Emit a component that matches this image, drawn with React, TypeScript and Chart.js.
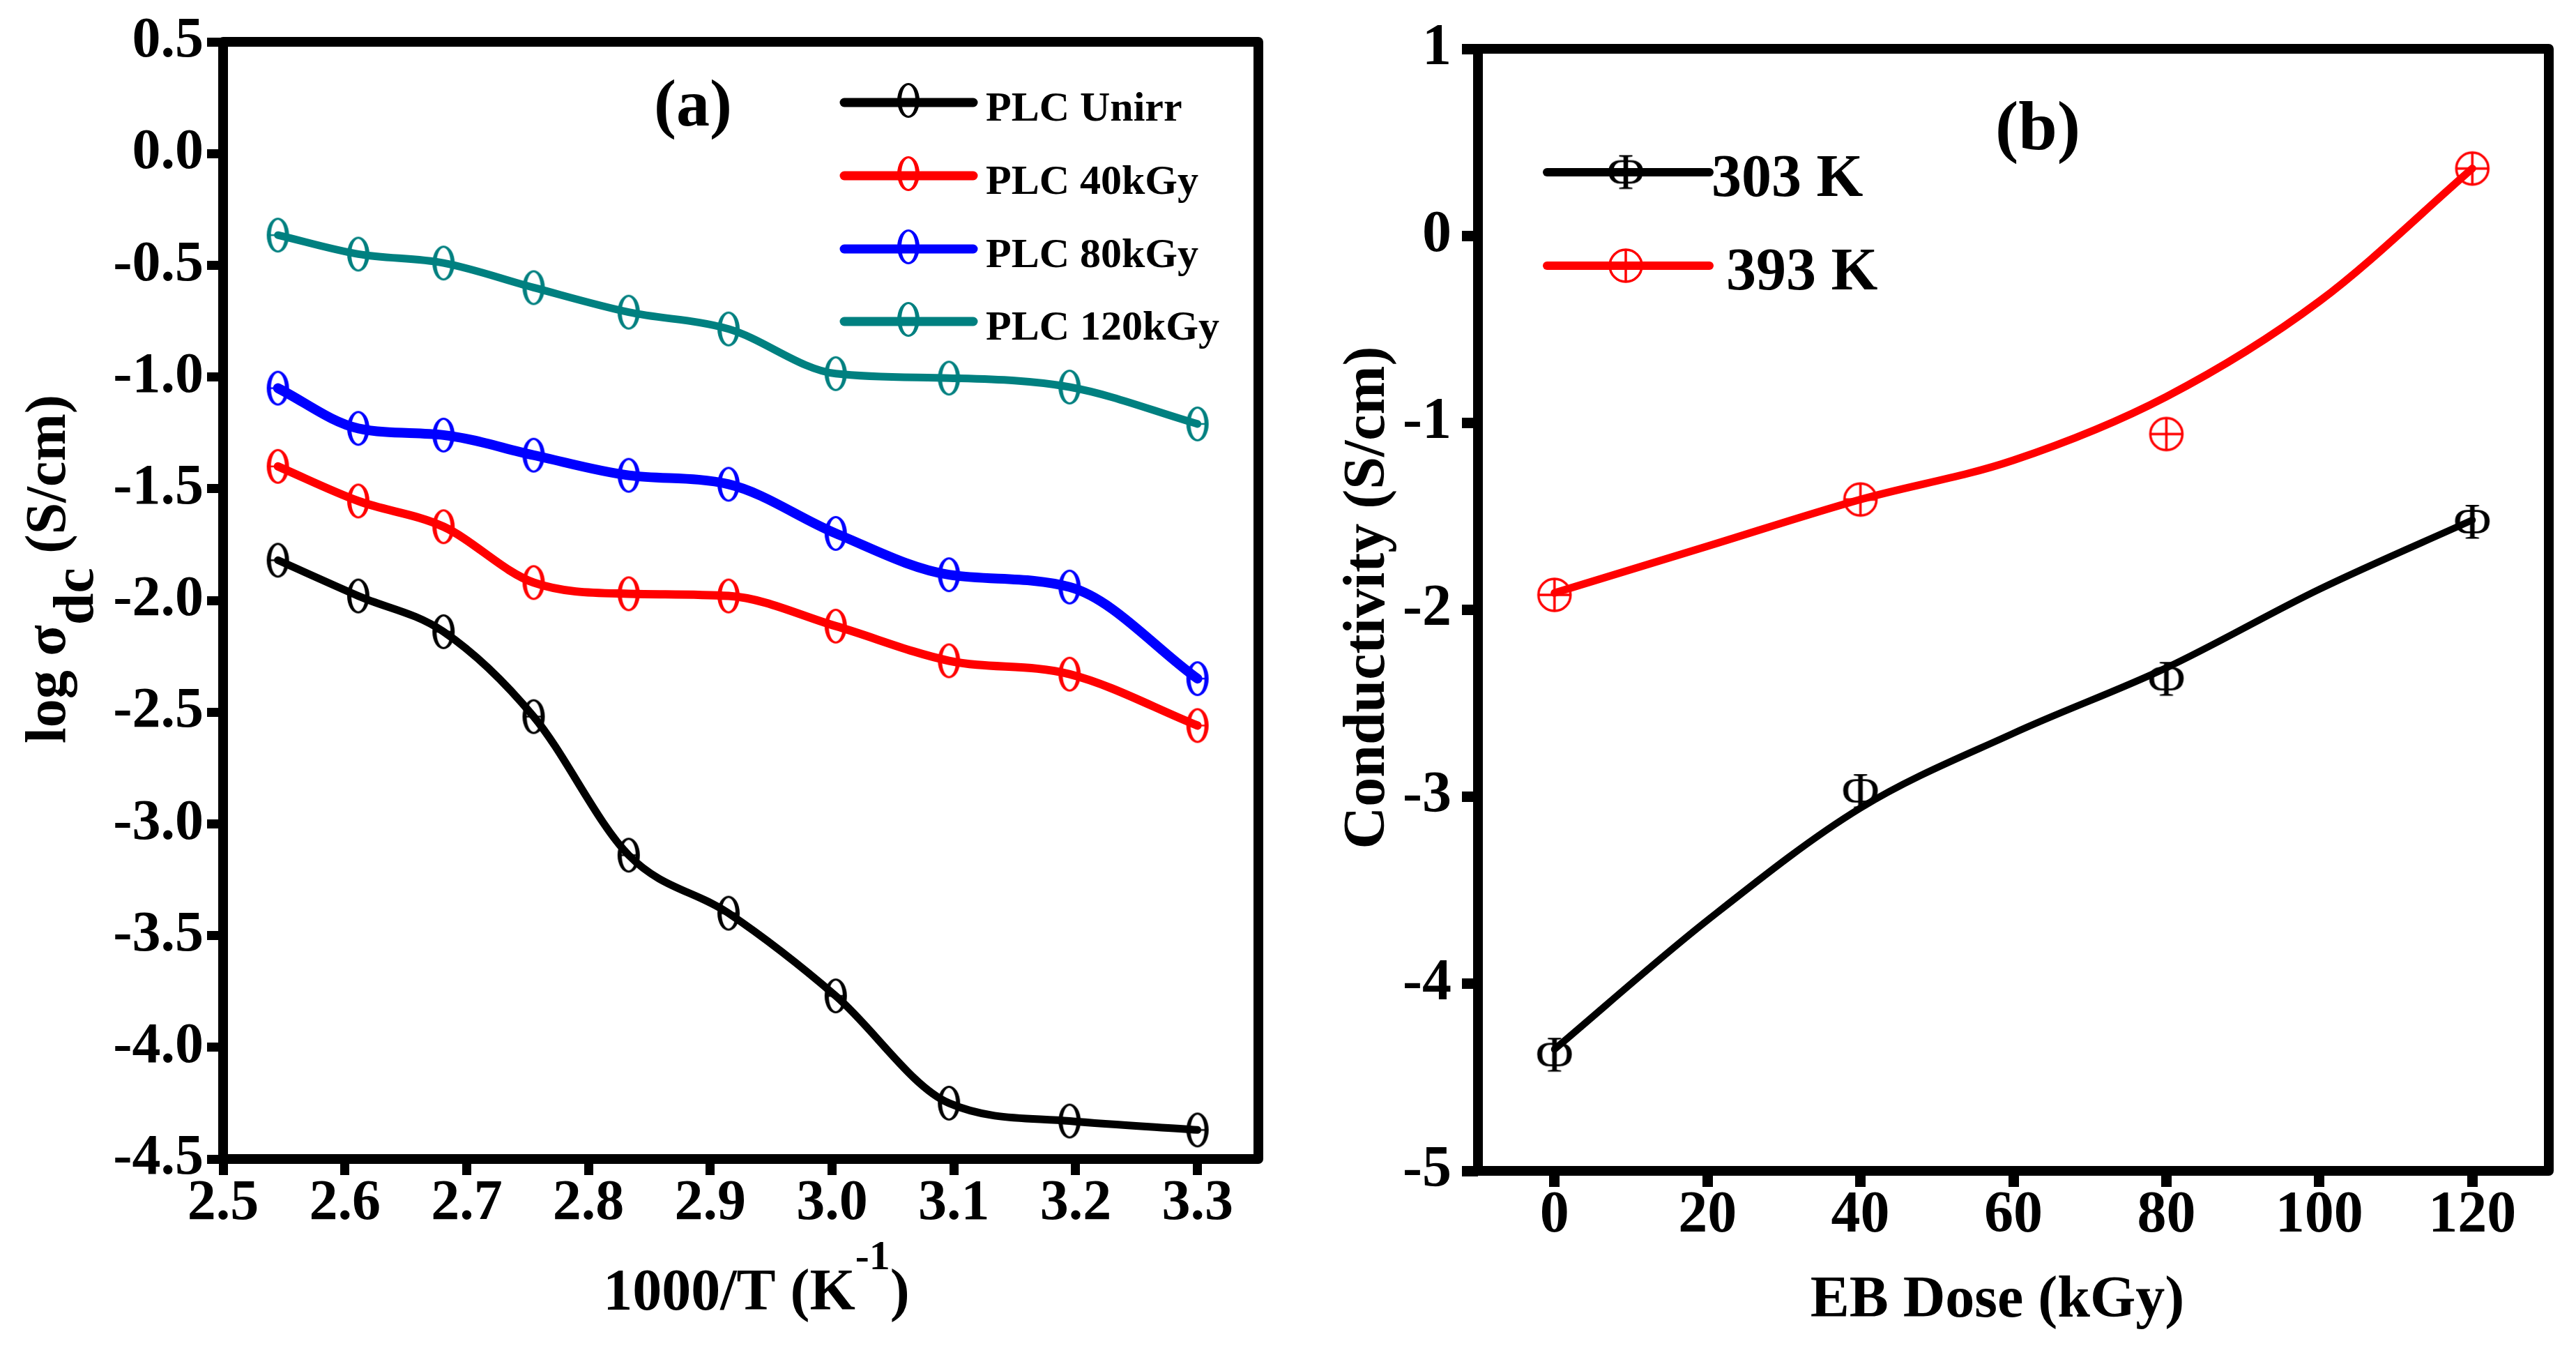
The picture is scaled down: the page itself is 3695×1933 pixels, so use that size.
import React, { useEffect, useRef } from 'react';
import { Chart, registerables } from 'chart.js';

Chart.register(...registerables);

const FONT = "'Liberation Serif', 'Times New Roman', serif";

// ---------- Panel (a) data ----------
const A_INV_T = [2.545, 2.611, 2.681, 2.755, 2.833, 2.915, 3.003, 3.096, 3.195, 3.3];
const A_UNIRR = [-1.82, -1.98, -2.14, -2.52, -3.14, -3.4, -3.77, -4.25, -4.33, -4.37];
const A_40KGY = [-1.4, -1.555, -1.67, -1.92, -1.97, -1.98, -2.115, -2.27, -2.33, -2.56];
const A_80KGY = [-1.05, -1.23, -1.26, -1.35, -1.44, -1.48, -1.7, -1.885, -1.94, -2.35];
const A_120KGY = [-0.365, -0.45, -0.49, -0.6, -0.71, -0.785, -0.985, -1.005, -1.045, -1.21];
const A_SERIES = [A_UNIRR, A_40KGY, A_80KGY, A_120KGY];
const A_LABELS = ['PLC Unirr', 'PLC 40kGy', 'PLC 80kGy', 'PLC 120kGy'];
const A_COLORS = ['#000000', '#ff0000', '#0000ff', '#008080'];
const A_WIDTHS = [11, 12, 14, 11];
const A_X_TICKS = [2.5, 2.6, 2.7, 2.8, 2.9, 3.0, 3.1, 3.2, 3.3];
const A_Y_TICKS = [0.5, 0.0, -0.5, -1.0, -1.5, -2.0, -2.5, -3.0, -3.5, -4.0, -4.5];

// ---------- Panel (b) data ----------
const B_DOSE = [0, 40, 80, 120];
const B_303K = [-4.38, -2.97, -2.37, -1.53];
const B_393K = [-1.92, -1.41, -1.06, 0.36];
// smooth curves
const B_CURVE_DOSE = [0, 20, 40, 60, 80, 100, 120];
const B_CURVE_303K = [-4.35, -3.66, -3.06, -2.66, -2.31, -1.89, -1.52];
const B_CURVE_393K = [-1.91, -1.66, -1.41, -1.2, -0.86, -0.35, 0.36];
const B_LABELS = ['303 K', '393 K'];
const B_COLORS = ['#000000', '#ff0000'];
const B_X_TICKS = [0, 20, 40, 60, 80, 100, 120];
const B_Y_TICKS = [1, 0, -1, -2, -3, -4, -5];

function glyphMarker(ch: string, color: string, size: number): HTMLCanvasElement {
  const probe = document.createElement('canvas').getContext('2d')!;
  probe.font = `${size}px ${FONT}`;
  const m = probe.measureText(ch);
  const w = Math.ceil(m.actualBoundingBoxLeft + m.actualBoundingBoxRight) + 4;
  const h = Math.ceil(m.actualBoundingBoxAscent + m.actualBoundingBoxDescent) + 4;
  const c = document.createElement('canvas');
  c.width = w;
  c.height = h;
  const ctx = c.getContext('2d')!;
  ctx.font = `${size}px ${FONT}`;
  ctx.fillStyle = color;
  ctx.textAlign = 'left';
  ctx.textBaseline = 'alphabetic';
  ctx.fillText(ch, 2 + m.actualBoundingBoxLeft, 2 + m.actualBoundingBoxAscent);
  return c;
}

// theta-like marker: ellipse with thick sides, thin top/bottom and a horizontal bar
function thetaMarker(color: string, w: number, h: number): HTMLCanvasElement {
  const c = document.createElement('canvas');
  c.width = w + 4;
  c.height = h + 4;
  const ctx = c.getContext('2d')!;
  const cx = c.width / 2;
  const cy = c.height / 2;
  const rx = w / 2;
  const ry = h / 2;
  ctx.fillStyle = color;
  ctx.beginPath();
  ctx.ellipse(cx, cy, rx, ry, 0, 0, Math.PI * 2);
  ctx.ellipse(cx, cy, rx - 6, ry - 3, 0, 0, Math.PI * 2);
  ctx.fill('evenodd');
  ctx.strokeStyle = color;
  ctx.lineWidth = 2.5;
  ctx.beginPath();
  ctx.moveTo(cx - rx + 5, cy);
  ctx.lineTo(cx + rx - 5, cy);
  ctx.stroke();
  return c;
}

function circlePlus(color: string, d: number): HTMLCanvasElement {
  const c = document.createElement('canvas');
  c.width = d + 4;
  c.height = d + 4;
  const ctx = c.getContext('2d')!;
  const cx = c.width / 2;
  const cy = c.height / 2;
  const r = d / 2 - 2;
  ctx.strokeStyle = color;
  ctx.lineWidth = 3.5;
  ctx.beginPath();
  ctx.arc(cx, cy, r, 0, Math.PI * 2);
  ctx.stroke();
  ctx.lineWidth = 3.5;
  ctx.beginPath();
  ctx.moveTo(cx - r, cy);
  ctx.lineTo(cx + r, cy);
  ctx.moveTo(cx, cy - r);
  ctx.lineTo(cx, cy + r);
  ctx.stroke();
  return c;
}

type Part = { t: string; size: number; dy: number };

function drawParts(ctx: CanvasRenderingContext2D, parts: Part[], cx: number, baseY: number) {
  let total = 0;
  const widths = parts.map((p) => {
    ctx.font = `bold ${p.size}px ${FONT}`;
    const w = ctx.measureText(p.t).width;
    total += w;
    return w;
  });
  let x = cx - total / 2;
  ctx.textAlign = 'left';
  ctx.textBaseline = 'alphabetic';
  parts.forEach((p, i) => {
    ctx.font = `bold ${p.size}px ${FONT}`;
    ctx.fillText(p.t, x, baseY + p.dy);
    x += widths[i];
  });
}

function drawFrame(chart: any) {
  const { ctx, chartArea } = chart;
  ctx.save();
  ctx.strokeStyle = '#000';
  ctx.lineWidth = 14;
  ctx.lineJoin = 'round';
  ctx.strokeRect(chartArea.left, chartArea.top, chartArea.right - chartArea.left, chartArea.bottom - chartArea.top);
  ctx.restore();
}

const tickFont = (size: number) => ({ family: FONT, size, weight: 'bold' as const, lineHeight: 1 });

function configA(): any {
  const markers = A_COLORS.map((c) => thetaMarker(c, 32, 50));
  const lineSets = A_SERIES.map((ys, i) => ({
    label: A_LABELS[i],
    data: A_INV_T.map((x, j) => ({ x, y: ys[j] })),
    borderColor: A_COLORS[i],
    borderWidth: A_WIDTHS[i],
    pointRadius: 0,
    cubicInterpolationMode: 'monotone',
    tension: 0.4,
    borderCapStyle: 'round',
    borderJoinStyle: 'round',
    fill: false,
  }));
  const markerSets = A_SERIES.map((ys, i) => ({
    label: A_LABELS[i] + ' markers',
    data: A_INV_T.map((x, j) => ({ x, y: ys[j] })),
    showLine: false,
    pointStyle: markers[i],
    pointRadius: 5,
    pointHoverRadius: 5,
    borderColor: A_COLORS[i],
  }));
  const annot = {
    id: 'annotA',
    afterDraw(chart: any) {
      drawFrame(chart);
      const ctx: CanvasRenderingContext2D = chart.ctx;
      ctx.save();
      ctx.fillStyle = '#000';
      // panel label
      ctx.font = `bold 96px ${FONT}`;
      ctx.textAlign = 'center';
      ctx.textBaseline = 'alphabetic';
      ctx.fillText('(a)', 994, 180);
      // legend
      const ly = [147, 252, 357, 461];
      A_LABELS.forEach((lab, i) => {
        ctx.strokeStyle = A_COLORS[i];
        ctx.lineWidth = 13;
        ctx.lineCap = 'round';
        ctx.beginPath();
        ctx.moveTo(1211, ly[i]);
        ctx.lineTo(1396, ly[i]);
        ctx.stroke();
        const m = markers[i];
        ctx.drawImage(m, 1303 - m.width / 2, ly[i] - m.height / 2 - 3);
        ctx.fillStyle = '#000';
        ctx.font = `bold 60px ${FONT}`;
        ctx.textAlign = 'left';
        ctx.fillText(lab, 1414, ly[i] + 26);
      });
      // x title
      ctx.fillStyle = '#000';
      drawParts(
        ctx,
        [
          { t: '1000/T (K', size: 84, dy: 0 },
          { t: '-1', size: 60, dy: -58 },
          { t: ')', size: 84, dy: 0 },
        ],
        1085,
        1878,
      );
      // y title
      ctx.translate(93, 816);
      ctx.rotate(-Math.PI / 2);
      drawParts(
        ctx,
        [
          { t: 'log \u03C3', size: 82, dy: 0 },
          { t: 'dc', size: 82, dy: 40 },
          { t: ' (S/cm)', size: 82, dy: 0 },
        ],
        0,
        0,
      );
      ctx.restore();
    },
  };
  return {
    type: 'line',
    data: { datasets: [...lineSets, ...markerSets] },
    options: {
      responsive: false,
      animation: false,
      devicePixelRatio: 1,
      events: [],
      layout: { padding: { left: 0, right: 45, top: 60, bottom: 0 } },
      plugins: { legend: { display: false }, tooltip: { enabled: false } },
      scales: {
        x: {
          type: 'linear',
          min: 2.5,
          max: 3.35,
          afterBuildTicks: (s: any) => {
            s.ticks = A_X_TICKS.map((v) => ({ value: v }));
          },
          afterFit: (s: any) => {
            s.height = 1933 - 1662;
          },
          border: { display: false },
          grid: { display: true, drawOnChartArea: false, drawTicks: true, tickLength: 23, tickWidth: 13, tickColor: '#000' },
          ticks: {
            color: '#000',
            font: tickFont(82),
            padding: 1,
            autoSkip: false,
            maxRotation: 0,
            callback: (v: any) => Number(v).toFixed(1),
          },
        },
        y: {
          type: 'linear',
          min: -4.5,
          max: 0.5,
          afterBuildTicks: (s: any) => {
            s.ticks = A_Y_TICKS.map((v) => ({ value: v }));
          },
          afterFit: (s: any) => {
            s.width = 320;
          },
          border: { display: false },
          grid: { display: true, drawOnChartArea: false, drawTicks: true, tickLength: 23, tickWidth: 13, tickColor: '#000' },
          ticks: {
            color: '#000',
            font: tickFont(82),
            padding: 5,
            autoSkip: false,
            callback: (v: any) => Number(v).toFixed(1),
          },
        },
      },
    },
    plugins: [annot],
  };
}

function configB(): any {
  const markers = [glyphMarker('\u03A6', '#000000', 74), circlePlus('#ff0000', 50)];
  const curves = [B_CURVE_303K, B_CURVE_393K];
  const points = [B_303K, B_393K];
  const lineSets = curves.map((ys, i) => ({
    label: B_LABELS[i],
    data: B_CURVE_DOSE.map((x, j) => ({ x, y: ys[j] })),
    borderColor: B_COLORS[i],
    borderWidth: i === 0 ? 10 : 11,
    pointRadius: 0,
    cubicInterpolationMode: 'monotone',
    tension: 0.4,
    borderCapStyle: 'round',
    borderJoinStyle: 'round',
    fill: false,
  }));
  const markerSets = points.map((ys, i) => ({
    label: B_LABELS[i] + ' markers',
    data: B_DOSE.map((x, j) => ({ x, y: ys[j] })),
    showLine: false,
    pointStyle: markers[i],
    pointRadius: 5,
    pointHoverRadius: 5,
    borderColor: B_COLORS[i],
  }));
  const OX = 1850;
  const annot = {
    id: 'annotB',
    afterDraw(chart: any) {
      drawFrame(chart);
      const ctx: CanvasRenderingContext2D = chart.ctx;
      ctx.save();
      ctx.fillStyle = '#000';
      ctx.font = `bold 100px ${FONT}`;
      ctx.textAlign = 'center';
      ctx.textBaseline = 'alphabetic';
      ctx.fillText('(b)', 2923 - OX, 214);
      // legend
      const ly = [247, 381];
      const tx = [2455, 2476];
      B_LABELS.forEach((lab, i) => {
        ctx.strokeStyle = B_COLORS[i];
        ctx.lineWidth = 12;
        ctx.lineCap = 'round';
        ctx.beginPath();
        ctx.moveTo(2219 - OX, ly[i]);
        ctx.lineTo(2452 - OX, ly[i]);
        ctx.stroke();
        const m = markers[i];
        ctx.drawImage(m, 2332 - OX - m.width / 2, ly[i] - m.height / 2);
        ctx.fillStyle = '#000';
        ctx.font = `bold 86px ${FONT}`;
        ctx.textAlign = 'left';
        ctx.fillText(lab, tx[i] - OX, ly[i] + 34);
      });
      // x title
      ctx.fillStyle = '#000';
      drawParts(ctx, [{ t: 'EB Dose (kGy)', size: 84, dy: 0 }], 2865 - OX, 1888);
      // y title
      ctx.translate(1985 - OX, 857);
      ctx.rotate(-Math.PI / 2);
      drawParts(ctx, [{ t: 'Conductivity (S/cm)', size: 84, dy: 0 }], 0, 0);
      ctx.restore();
    },
  };
  return {
    type: 'line',
    data: { datasets: [...lineSets, ...markerSets] },
    options: {
      responsive: false,
      animation: false,
      devicePixelRatio: 1,
      events: [],
      layout: { padding: { left: 0, right: 39, top: 70, bottom: 0 } },
      plugins: { legend: { display: false }, tooltip: { enabled: false } },
      scales: {
        x: {
          type: 'linear',
          min: -10,
          max: 130,
          afterBuildTicks: (s: any) => {
            s.ticks = B_X_TICKS.map((v) => ({ value: v }));
          },
          afterFit: (s: any) => {
            s.height = 1933 - 1679;
          },
          border: { display: false },
          grid: { display: true, drawOnChartArea: false, drawTicks: true, tickLength: 23, tickWidth: 15, tickColor: '#000' },
          ticks: {
            color: '#000',
            font: tickFont(84),
            padding: 0,
            autoSkip: false,
            maxRotation: 0,
            callback: (v: any) => String(v),
          },
        },
        y: {
          type: 'linear',
          min: -5,
          max: 1,
          afterBuildTicks: (s: any) => {
            s.ticks = B_Y_TICKS.map((v) => ({ value: v }));
          },
          afterFit: (s: any) => {
            s.width = 270;
          },
          border: { display: false },
          grid: { display: true, drawOnChartArea: false, drawTicks: true, tickLength: 23, tickWidth: 15, tickColor: '#000' },
          ticks: {
            color: '#000',
            font: tickFont(84),
            padding: 15,
            autoSkip: false,
            callback: (v: any) => String(v),
          },
        },
      },
    },
    plugins: [annot],
  };
}

export default function App() {
  const aRef = useRef<HTMLCanvasElement>(null);
  const bRef = useRef<HTMLCanvasElement>(null);
  useEffect(() => {
    document.body.style.margin = '0';
    document.body.style.overflow = 'hidden';
    const ca = new Chart(aRef.current!, configA());
    const cb = new Chart(bRef.current!, configB());
    return () => {
      ca.destroy();
      cb.destroy();
    };
  }, []);
  return (
    <div style={{ position: 'absolute', left: 0, top: 0, width: 3695, height: 1933, background: '#ffffff', overflow: 'hidden' }}>
      <canvas
        ref={aRef}
        width={1850}
        height={1933}
        style={{ position: 'absolute', left: 0, top: 0, width: 1850, height: 1933 }}
      />
      <canvas
        ref={bRef}
        width={1845}
        height={1933}
        style={{ position: 'absolute', left: 1850, top: 0, width: 1845, height: 1933 }}
      />
    </div>
  );
}
